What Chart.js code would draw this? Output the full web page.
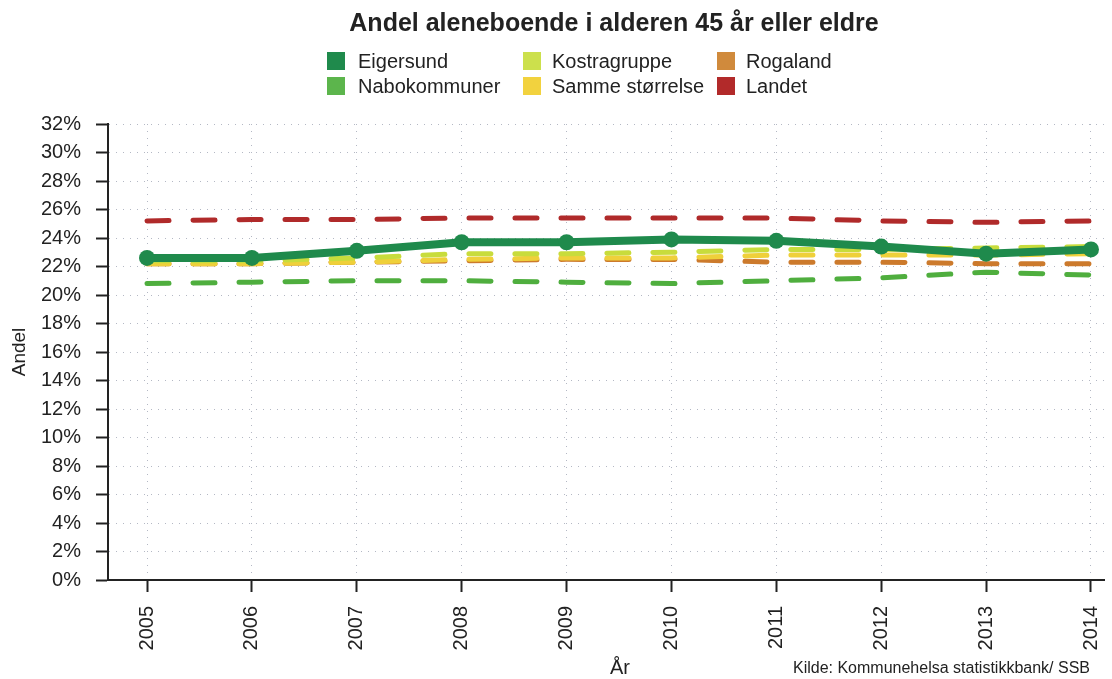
<!DOCTYPE html>
<html>
<head>
<meta charset="utf-8">
<script src="https://cdn.jsdelivr.net/npm/chart.js@4"></script>
<style>
  body { margin: 0; background: #fff; }
  #wrap { position: relative; width: 1112px; height: 679px; font-family: "Liberation Sans", Arial, sans-serif; color: #222; overflow: hidden; }
  #title { position: absolute; left: 614px; top: 7px; transform: translateX(-50%); font-size: 25px; line-height: 30px; font-weight: bold; white-space: nowrap; }
  .leg { position: absolute; font-size: 20px; line-height: 20px; white-space: nowrap; }
  .leg i { position: absolute; width: 18px; height: 18px; top: 1px; }
  #xtitle { position: absolute; left: 620px; top: 656px; transform: translateX(-50%); font-size: 20px; line-height: 22px; }
  #kilde { position: absolute; right: 22px; top: 659px; font-size: 16px; color: #222; }
</style>
</head>
<body>
<div id="wrap">
  <canvas id="chart" width="1112" height="679"></canvas>
  <div id="title">Andel aleneboende i alderen 45 år eller eldre</div>
  <div id="legend"></div>
  <div id="xtitle">År</div>
  <div id="kilde">Kilde: Kommunehelsa statistikkbank/ SSB</div>
</div>
<script>
const years = [2005, 2006, 2007, 2008, 2009, 2010, 2011, 2012, 2013, 2014];
const eigersund = [22.6, 22.6, 23.1, 23.7, 23.7, 23.9, 23.8, 23.4, 22.9, 23.2];
const nabokommuner = [20.8, 20.9, 21.0, 21.0, 20.9, 20.8, 21.0, 21.2, 21.6, 21.4];
const kostragruppe = [22.4, 22.4, 22.6, 22.9, 22.9, 23.0, 23.2, 23.2, 23.3, 23.4];
const sammeStorrelse = [22.2, 22.2, 22.3, 22.5, 22.6, 22.6, 22.8, 22.8, 22.8, 22.9];
const rogaland = [22.2, 22.2, 22.3, 22.4, 22.5, 22.5, 22.3, 22.3, 22.2, 22.2];
const landet = [25.2, 25.3, 25.3, 25.4, 25.4, 25.4, 25.4, 25.2, 25.1, 25.2];
const yTicks = [0, 2, 4, 6, 8, 10, 12, 14, 16, 18, 20, 22, 24, 26, 28, 30, 32];

const font = "'Liberation Sans', Arial, sans-serif";

function pts(vals) {
  return years.map((yr, i) => ({ x: yr, y: vals[i] }));
}

function dashed(label, vals, color, order) {
  return {
    label: label,
    data: pts(vals),
    borderColor: color,
    borderWidth: 5,
    borderDash: [22, 24],
    borderCapStyle: 'round',
    pointRadius: 0,
    fill: false,
    order: order
  };
}

const datasets = [
  {
    label: 'Eigersund',
    data: pts(eigersund),
    borderColor: '#1f8a4c',
    backgroundColor: '#1f8a4c',
    borderWidth: 8,
    pointRadius: 8,
    pointBorderWidth: 0,
    fill: false,
    order: 0
  },
  dashed('Kostragruppe', kostragruppe, '#c8dc3c', 1),
  dashed('Samme størrelse', sammeStorrelse, '#efd03a', 2),
  dashed('Rogaland', rogaland, '#cc7a2c', 3),
  dashed('Nabokommuner', nabokommuner, '#4fae3e', 4),
  dashed('Landet', landet, '#b02a2a', 5)
];

// legend in three columns like the original
const legendItems = [
  ['Eigersund', '#1f8a4c', 327, 358, 51],
  ['Nabokommuner', '#5cb54c', 327, 358, 76],
  ['Kostragruppe', '#cce04c', 523, 552, 51],
  ['Samme størrelse', '#f2d23e', 523, 552, 76],
  ['Rogaland', '#d08a3c', 717, 746, 51],
  ['Landet', '#b22a2a', 717, 746, 76]
];
const legend = document.getElementById('legend');
legendItems.forEach(([name, color, bx, tx, y]) => {
  const box = document.createElement('div');
  box.className = 'leg';
  box.style.left = bx + 'px';
  box.style.top = y + 'px';
  box.innerHTML = '<i style="left:0;background:' + color + '"></i><span style="position:absolute;left:' + (tx - bx) + 'px">' + name + '</span>';
  legend.appendChild(box);
});

const gridOpts = {
  color: '#b4b8c4',
  lineWidth: 1,
  tickLength: 12,
  tickColor: '#222',
  tickWidth: 2,
  tickBorderDash: []
};

const ctx = document.getElementById('chart').getContext('2d');
const chart = new Chart(ctx, {
  type: 'line',
  data: { datasets: datasets },
  options: {
    responsive: false,
    animation: false,
    layout: { padding: { left: 0, right: 0, top: 124, bottom: 0 } },
    plugins: {
      legend: { display: false },
      tooltip: { enabled: false }
    },
    scales: {
      x: {
        type: 'linear',
        min: 2004.628,
        max: 2014.124,
        afterFit: (scale) => {
          scale.height = 99;
          scale.paddingRight = 0;
          scale.paddingLeft = 0;
        },
        afterBuildTicks: (scale) => { scale.ticks = years.map(v => ({ value: v })); },
        ticks: {
          minRotation: 90,
          maxRotation: 90,
          padding: 14,
          color: '#222',
          font: { family: font, size: 20 },
          callback: (v) => String(v)
        },
        grid: gridOpts,
        border: { display: true, color: '#222', width: 2, dash: [1, 6] },
        title: { display: false }
      },
      y: {
        min: 0,
        max: 32,
        afterFit: (scale) => { scale.width = 108; },
        afterBuildTicks: (scale) => { scale.ticks = yTicks.map(v => ({ value: v })); },
        ticks: {
          padding: 15,
          color: '#222',
          font: { family: font, size: 20 },
          callback: (v) => v + '%'
        },
        grid: gridOpts,
        border: { display: true, color: '#222', width: 2, dash: [1, 6] },
        title: {
          display: true,
          text: 'Andel',
          color: '#222',
          font: { family: font, size: 19 },
          padding: { top: 8, bottom: 0 }
        }
      }
    }
  }
});
</script>
</body>
</html>
